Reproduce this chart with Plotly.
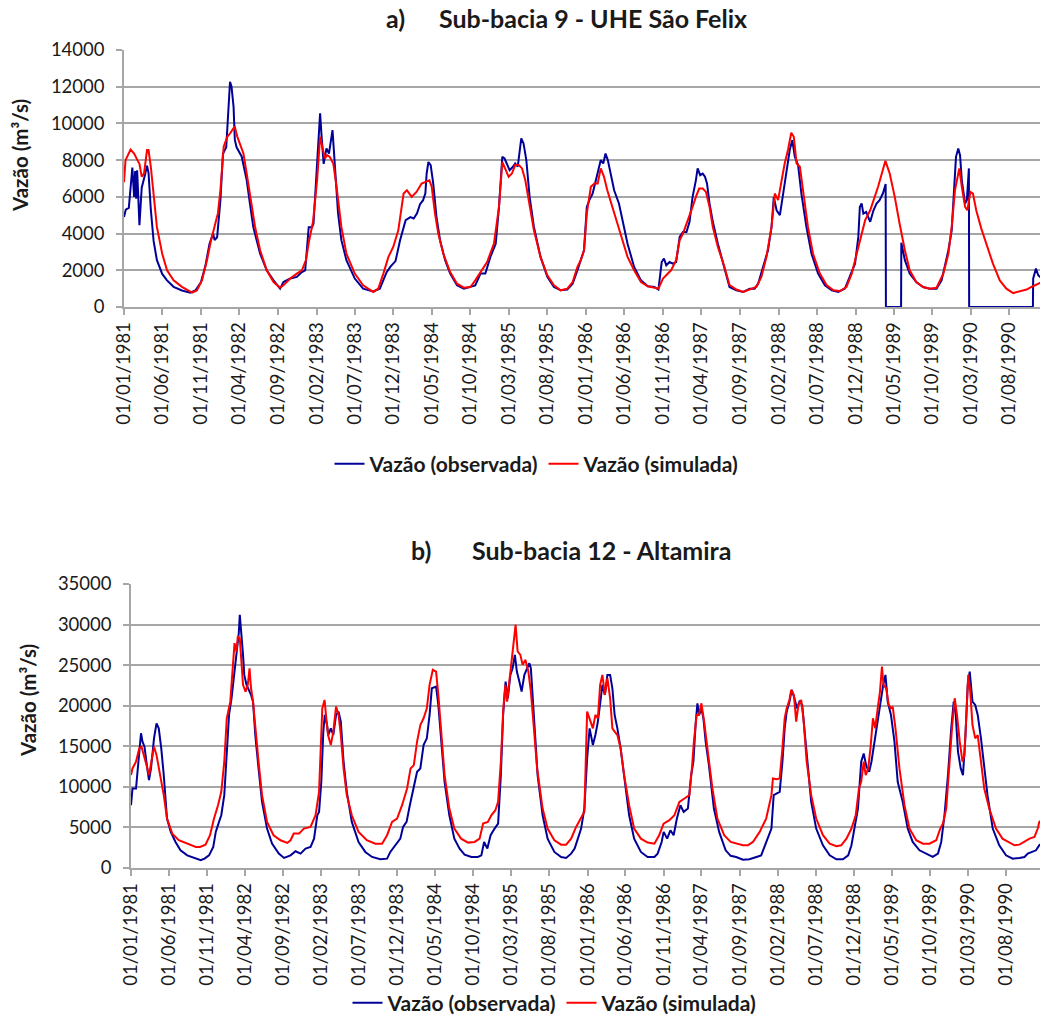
import plotly.graph_objects as go

# ---------------- data ----------------
# Panel a: Sub-bacia 9 - UHE São Felix, observed flow (m3/s)
A_OBS = [
    ("1981-01-01", 4900), ("1981-01-08", 5300), ("1981-01-20", 5400), ("1981-02-03", 7600),
    ("1981-02-10", 6000), ("1981-02-14", 7400), ("1981-02-18", 5900), ("1981-02-22", 7450),
    ("1981-03-03", 4450), ("1981-03-12", 6500), ("1981-03-25", 7200), ("1981-04-02", 7700),
    ("1981-04-08", 7300), ("1981-04-17", 5300), ("1981-04-28", 3600), ("1981-05-11", 2550),
    ("1981-06-01", 1800), ("1981-06-20", 1450), ("1981-07-16", 1100), ("1981-08-18", 900),
    ("1981-09-20", 780), ("1981-10-10", 900), ("1981-11-01", 1350), ("1981-11-18", 2200),
    ("1981-12-05", 3450), ("1981-12-19", 4000), ("1981-12-25", 3650), ("1982-01-04", 3800),
    ("1982-01-17", 5800), ("1982-01-27", 8350), ("1982-02-09", 8700), ("1982-02-19", 10900),
    ("1982-02-24", 12270), ("1982-03-02", 12000), ("1982-03-10", 10900), ("1982-03-15", 9100),
    ("1982-03-22", 8700), ("1982-04-11", 8200), ("1982-05-01", 6900), ("1982-05-14", 5600),
    ("1982-05-27", 4350), ("1982-06-23", 2900), ("1982-07-19", 2000), ("1982-08-15", 1450),
    ("1982-09-10", 1000), ("1982-09-23", 1360), ("1982-10-20", 1550), ("1982-11-15", 1640),
    ("1982-12-05", 1900), ("1982-12-18", 2000), ("1983-01-01", 4350), ("1983-01-14", 4350),
    ("1983-01-20", 4550), ("1983-02-03", 7800), ("1983-02-15", 10550), ("1983-02-21", 9270),
    ("1983-03-01", 7800), ("1983-03-12", 8640), ("1983-03-22", 8360), ("1983-04-05", 9640),
    ("1983-04-14", 7640), ("1983-04-27", 5100), ("1983-05-10", 3640), ("1983-05-30", 2550),
    ("1983-07-02", 1550), ("1983-08-04", 1000), ("1983-09-13", 850), ("1983-10-09", 1000),
    ("1983-11-05", 1900), ("1983-11-20", 2200), ("1983-12-10", 2500), ("1983-12-28", 3640),
    ("1984-01-19", 4730), ("1984-02-07", 4900), ("1984-02-20", 4820), ("1984-03-04", 5100),
    ("1984-03-16", 5600), ("1984-03-28", 5820), ("1984-04-06", 6200), ("1984-04-11", 7270),
    ("1984-04-18", 7900), ("1984-04-27", 7730), ("1984-05-07", 6730), ("1984-05-20", 4900),
    ("1984-06-03", 3640), ("1984-06-23", 2550), ("1984-07-13", 1820), ("1984-08-09", 1180),
    ("1984-09-05", 1000), ("1984-10-01", 1090), ("1984-10-20", 1180), ("1984-11-10", 1820),
    ("1984-11-29", 1820), ("1984-12-19", 2730), ("1985-01-09", 3450), ("1985-01-22", 5450),
    ("1985-02-04", 8180), ("1985-02-13", 8090), ("1985-02-24", 7730), ("1985-03-05", 7450),
    ("1985-03-18", 7640), ("1985-03-27", 7820), ("1985-04-06", 7640), ("1985-04-14", 8730),
    ("1985-04-20", 9180), ("1985-04-29", 8910), ("1985-05-10", 8000), ("1985-05-23", 6000),
    ("1985-06-09", 4360), ("1985-07-05", 2730), ("1985-08-01", 1640), ("1985-08-27", 1090),
    ("1985-09-23", 910), ("1985-10-19", 950), ("1985-11-09", 1270), ("1985-11-28", 2000),
    ("1985-12-11", 2550), ("1985-12-24", 3090), ("1986-01-04", 5450), ("1986-01-14", 5820),
    ("1986-01-27", 6180), ("1986-02-09", 6900), ("1986-02-22", 7550), ("1986-02-28", 8000),
    ("1986-03-10", 7820), ("1986-03-19", 8360), ("1986-03-28", 8000), ("1986-04-09", 7270),
    ("1986-04-22", 6360), ("1986-05-11", 5640), ("1986-05-24", 4730), ("1986-06-14", 3450),
    ("1986-07-10", 2180), ("1986-08-06", 1450), ("1986-09-02", 1130), ("1986-09-28", 1090),
    ("1986-10-14", 950), ("1986-10-27", 2450), ("1986-11-05", 2640), ("1986-11-14", 2270),
    ("1986-11-27", 2450), ("1986-12-10", 2360), ("1986-12-23", 2450), ("1987-01-06", 3820),
    ("1987-01-19", 4090), ("1987-02-02", 4090), ("1987-02-14", 4640), ("1987-02-26", 6000),
    ("1987-03-11", 6900), ("1987-03-18", 7550), ("1987-03-28", 7180), ("1987-04-07", 7270),
    ("1987-04-16", 7100), ("1987-04-24", 6730), ("1987-05-04", 5640), ("1987-05-17", 4640),
    ("1987-06-06", 3450), ("1987-07-02", 2180), ("1987-07-22", 1090), ("1987-08-18", 910),
    ("1987-09-14", 820), ("1987-10-10", 1000), ("1987-10-29", 1000), ("1987-11-12", 1270),
    ("1987-12-02", 2180), ("1987-12-21", 3090), ("1988-01-04", 4360), ("1988-01-13", 6000),
    ("1988-01-24", 5270), ("1988-02-06", 5000), ("1988-02-19", 6180), ("1988-03-03", 7270),
    ("1988-03-16", 8550), ("1988-03-26", 9090), ("1988-04-05", 8180), ("1988-04-18", 7730),
    ("1988-05-01", 6180), ("1988-05-21", 4360), ("1988-06-10", 2900), ("1988-07-06", 1820),
    ("1988-08-02", 1180), ("1988-08-29", 910), ("1988-09-24", 820), ("1988-10-20", 1000),
    ("1988-11-09", 1640), ("1988-11-29", 2360), ("1988-12-12", 3820), ("1988-12-18", 5450),
    ("1988-12-25", 5640), ("1989-01-01", 5090), ("1989-01-12", 5180), ("1989-01-21", 4900),
    ("1989-01-28", 4640), ("1989-02-10", 5270), ("1989-02-22", 5640), ("1989-03-06", 5820),
    ("1989-03-19", 6180), ("1989-03-30", 6700), ("1989-03-31", 0), ("1989-05-30", 0),
    ("1989-05-31", 3500), ("1989-06-14", 2550), ("1989-07-03", 1820), ("1989-07-29", 1360),
    ("1989-08-25", 1090), ("1989-09-21", 1000), ("1989-10-17", 1000), ("1989-11-06", 1450),
    ("1989-11-19", 2180), ("1989-12-03", 3090), ("1989-12-16", 4180), ("1989-12-25", 6180),
    ("1990-01-02", 8180), ("1990-01-11", 8640), ("1990-01-18", 8270), ("1990-01-25", 6900),
    ("1990-02-07", 5640), ("1990-02-14", 5820), ("1990-02-22", 7550), ("1990-02-23", 0),
    ("1990-11-02", 0), ("1990-11-03", 1550), ("1990-11-14", 2090), ("1990-11-23", 1730),
    ("1990-11-30", 1640), ("1990-12-31", 1800),
]

# Panel a: simulated flow (m3/s)
A_SIM = [
    ("1981-01-01", 6800), ("1981-01-07", 8000), ("1981-01-27", 8580), ("1981-02-10", 8360),
    ("1981-02-23", 8000), ("1981-03-03", 7800), ("1981-03-12", 7100), ("1981-03-21", 7270),
    ("1981-04-02", 8550), ("1981-04-08", 8550), ("1981-04-17", 7640), ("1981-04-28", 6000),
    ("1981-05-11", 4360), ("1981-06-01", 2900), ("1981-06-20", 2000), ("1981-07-16", 1450),
    ("1981-08-18", 1100), ("1981-09-27", 780), ("1981-10-16", 900), ("1981-11-05", 1450),
    ("1981-11-25", 2550), ("1981-12-11", 3640), ("1981-12-28", 4550), ("1982-01-07", 5100),
    ("1982-01-17", 6360), ("1982-01-30", 8730), ("1982-02-13", 9270), ("1982-02-24", 9450),
    ("1982-03-09", 9730), ("1982-03-15", 9800), ("1982-03-25", 9270), ("1982-04-08", 8730),
    ("1982-04-18", 8360), ("1982-05-01", 7270), ("1982-05-17", 5820), ("1982-06-03", 4360),
    ("1982-06-23", 3090), ("1982-07-19", 2000), ("1982-08-15", 1360), ("1982-09-10", 1050),
    ("1982-09-23", 1180), ("1982-10-20", 1550), ("1982-11-15", 1820), ("1982-12-05", 2000),
    ("1982-12-21", 2550), ("1983-01-03", 3640), ("1983-01-18", 4640), ("1983-02-03", 6900),
    ("1983-02-15", 9270), ("1983-02-25", 8730), ("1983-03-06", 8090), ("1983-03-15", 8270),
    ("1983-03-25", 8180), ("1983-04-08", 7820), ("1983-04-21", 6550), ("1983-05-10", 4360),
    ("1983-05-30", 2900), ("1983-07-02", 1820), ("1983-08-04", 1180), ("1983-09-13", 820),
    ("1983-10-03", 1000), ("1983-10-23", 1820), ("1983-11-12", 2730), ("1983-12-01", 3270),
    ("1983-12-21", 4180), ("1984-01-11", 6180), ("1984-01-24", 6360), ("1984-02-12", 6000),
    ("1984-03-02", 6270), ("1984-03-22", 6730), ("1984-04-11", 6820), ("1984-04-22", 6900),
    ("1984-05-01", 6550), ("1984-05-14", 5100), ("1984-05-27", 4000), ("1984-06-16", 2900),
    ("1984-07-13", 1900), ("1984-08-09", 1270), ("1984-09-05", 1050), ("1984-10-01", 1090),
    ("1984-10-20", 1450), ("1984-11-10", 1900), ("1984-12-06", 2450), ("1985-01-02", 3450),
    ("1985-01-22", 5450), ("1985-02-04", 7900), ("1985-02-18", 7450), ("1985-03-01", 7090),
    ("1985-03-14", 7270), ("1985-03-27", 7730), ("1985-04-10", 7730), ("1985-04-23", 7550),
    ("1985-05-06", 6900), ("1985-05-19", 5820), ("1985-06-09", 4180), ("1985-07-05", 2730),
    ("1985-08-01", 1730), ("1985-08-27", 1180), ("1985-09-23", 910), ("1985-10-19", 1000),
    ("1985-11-09", 1360), ("1985-11-28", 2180), ("1985-12-11", 2550), ("1985-12-24", 3090),
    ("1986-01-04", 5100), ("1986-01-20", 6550), ("1986-02-03", 6730), ("1986-02-16", 6730),
    ("1986-02-28", 7550), ("1986-03-13", 7090), ("1986-03-26", 6360), ("1986-04-15", 5450),
    ("1986-05-05", 4550), ("1986-05-24", 3640), ("1986-06-14", 2730), ("1986-07-10", 2000),
    ("1986-08-06", 1360), ("1986-09-02", 1130), ("1986-09-28", 1050), ("1986-10-14", 1000),
    ("1986-11-01", 1550), ("1986-11-14", 1730), ("1986-12-03", 2000), ("1986-12-23", 2550),
    ("1987-01-06", 3640), ("1987-01-19", 4000), ("1987-02-08", 4730), ("1987-02-26", 5450),
    ("1987-03-11", 6000), ("1987-03-24", 6450), ("1987-04-07", 6450), ("1987-04-20", 6270),
    ("1987-05-04", 5450), ("1987-05-17", 4360), ("1987-06-06", 3270), ("1987-07-02", 2180),
    ("1987-07-22", 1200), ("1987-08-18", 950), ("1987-09-14", 820), ("1987-10-10", 950),
    ("1987-11-05", 1090), ("1987-11-25", 1640), ("1987-12-15", 2730), ("1988-01-04", 4360),
    ("1988-01-17", 6180), ("1988-01-30", 5820), ("1988-02-13", 6900), ("1988-02-25", 7820),
    ("1988-03-09", 8550), ("1988-03-22", 9490), ("1988-04-01", 9270), ("1988-04-12", 7820),
    ("1988-04-25", 7640), ("1988-05-08", 6360), ("1988-05-27", 4360), ("1988-06-16", 2900),
    ("1988-07-13", 1820), ("1988-08-09", 1180), ("1988-09-05", 910), ("1988-09-30", 870),
    ("1988-10-26", 1090), ("1988-11-16", 1820), ("1988-12-05", 2900), ("1988-12-25", 4000),
    ("1989-01-08", 4730), ("1989-01-28", 5270), ("1989-02-16", 6000), ("1989-02-28", 6550),
    ("1989-03-13", 7180), ("1989-03-29", 7960), ("1989-04-15", 7270), ("1989-05-05", 6000),
    ("1989-05-24", 4550), ("1989-06-14", 3090), ("1989-07-03", 2000), ("1989-07-29", 1360),
    ("1989-08-25", 1090), ("1989-09-21", 1000), ("1989-10-17", 1050), ("1989-11-13", 1820),
    ("1989-12-03", 2900), ("1989-12-16", 4360), ("1989-12-29", 6360), ("1990-01-15", 7550),
    ("1990-01-25", 6550), ("1990-02-07", 5450), ("1990-02-16", 5270), ("1990-02-28", 6270),
    ("1990-03-10", 6180), ("1990-03-23", 5270), ("1990-04-12", 4270), ("1990-05-02", 3450),
    ("1990-05-28", 2360), ("1990-06-24", 1450), ("1990-07-20", 1000), ("1990-08-16", 760),
    ("1990-09-12", 870), ("1990-10-08", 950), ("1990-10-27", 1090), ("1990-11-17", 1220),
    ("1990-11-30", 1310), ("1990-12-31", 1450),
]

# Panel b: Sub-bacia 12 - Altamira, observed flow (m3/s)
B_OBS = [
    ("1981-01-01", 7740), ("1981-01-07", 9800), ("1981-01-21", 9800), ("1981-01-30", 13100),
    ("1981-02-10", 16600), ("1981-02-16", 15570), ("1981-02-24", 14950), ("1981-03-07", 12270),
    ("1981-03-14", 10830), ("1981-03-22", 12270), ("1981-04-03", 15980), ("1981-04-13", 17830),
    ("1981-04-22", 17210), ("1981-05-02", 14740), ("1981-05-12", 11450), ("1981-05-25", 6090),
    ("1981-06-09", 4450), ("1981-06-28", 3210), ("1981-07-18", 2180), ("1981-08-14", 1560),
    ("1981-09-10", 1240), ("1981-10-07", 950), ("1981-10-22", 1150), ("1981-11-09", 1560),
    ("1981-11-26", 2590), ("1981-12-06", 4450), ("1981-12-19", 5680), ("1981-12-28", 6500),
    ("1982-01-09", 8980), ("1982-01-18", 13100), ("1982-01-28", 18860), ("1982-02-07", 20920),
    ("1982-02-17", 23800), ("1982-02-27", 26270), ("1982-03-08", 28950), ("1982-03-12", 31210),
    ("1982-03-17", 29570), ("1982-03-25", 26270), ("1982-03-30", 23800), ("1982-04-08", 22570),
    ("1982-04-17", 21950), ("1982-04-26", 21330), ("1982-05-04", 20500), ("1982-05-13", 16390),
    ("1982-05-26", 12270), ("1982-06-09", 8150), ("1982-06-29", 4860), ("1982-07-19", 3000),
    ("1982-08-15", 1770), ("1982-09-05", 1240), ("1982-10-01", 1560), ("1982-10-21", 2060),
    ("1982-11-10", 1770), ("1982-11-30", 2390), ("1982-12-20", 2590), ("1983-01-03", 3620),
    ("1983-01-16", 6500), ("1983-01-23", 6920), ("1983-02-01", 10620), ("1983-02-09", 16800),
    ("1983-02-15", 18860), ("1983-02-24", 17620), ("1983-03-01", 16390), ("1983-03-11", 17210),
    ("1983-03-21", 16390), ("1983-04-01", 18860), ("1983-04-11", 19270), ("1983-04-20", 18040),
    ("1983-05-01", 13100), ("1983-05-14", 9390), ("1983-06-03", 5680), ("1983-06-30", 3210),
    ("1983-07-27", 1980), ("1983-08-23", 1360), ("1983-09-25", 1070), ("1983-10-22", 1150),
    ("1983-11-04", 1980), ("1983-11-18", 2590), ("1983-12-01", 3000), ("1983-12-14", 3620),
    ("1983-12-25", 5060), ("1984-01-08", 5680), ("1984-01-21", 7740), ("1984-02-04", 9800),
    ("1984-02-19", 11860), ("1984-03-03", 12270), ("1984-03-16", 15150), ("1984-03-29", 15980),
    ("1984-04-09", 18860), ("1984-04-18", 22150), ("1984-05-05", 22360), ("1984-05-14", 20100),
    ("1984-05-25", 15570), ("1984-06-08", 10620), ("1984-06-27", 6500), ("1984-07-17", 3620),
    ("1984-08-07", 2390), ("1984-08-27", 1650), ("1984-09-23", 1360), ("1984-10-19", 1360),
    ("1984-11-02", 1560), ("1984-11-13", 3210), ("1984-11-26", 2390), ("1984-12-09", 4040),
    ("1984-12-25", 4860), ("1985-01-08", 5470), ("1985-01-19", 11450), ("1985-01-28", 18860),
    ("1985-02-07", 22980), ("1985-02-16", 20920), ("1985-02-26", 23800), ("1985-03-07", 24620),
    ("1985-03-16", 26270), ("1985-03-24", 24210), ("1985-04-03", 22980), ("1985-04-12", 21740),
    ("1985-04-23", 23800), ("1985-05-03", 24620), ("1985-05-13", 25240), ("1985-05-19", 24620),
    ("1985-05-26", 21740), ("1985-06-05", 16390), ("1985-06-15", 11450), ("1985-07-05", 6500),
    ("1985-07-25", 3620), ("1985-08-21", 1980), ("1985-09-17", 1360), ("1985-10-07", 1240),
    ("1985-10-27", 1770), ("1985-11-10", 2390), ("1985-11-23", 3620), ("1985-12-06", 4860),
    ("1985-12-19", 7330), ("1985-12-30", 13510), ("1986-01-09", 17210), ("1986-01-22", 15150),
    ("1986-02-01", 16390), ("1986-02-11", 18040), ("1986-02-21", 20500), ("1986-03-01", 22570),
    ("1986-03-11", 21330), ("1986-03-21", 23800), ("1986-04-01", 23800), ("1986-04-10", 22150),
    ("1986-04-19", 18860), ("1986-04-30", 17210), ("1986-05-13", 14740), ("1986-05-27", 11040),
    ("1986-06-16", 6500), ("1986-07-06", 3620), ("1986-08-02", 1980), ("1986-08-29", 1360),
    ("1986-09-25", 1360), ("1986-10-08", 1770), ("1986-10-24", 3210), ("1986-11-01", 4450),
    ("1986-11-15", 3620), ("1986-11-28", 4650), ("1986-12-11", 4040), ("1986-12-24", 6090),
    ("1987-01-07", 7740), ("1987-01-20", 6920), ("1987-02-06", 7330), ("1987-02-19", 11450),
    ("1987-02-28", 13100), ("1987-03-09", 17830), ("1987-03-16", 20300), ("1987-03-23", 18860),
    ("1987-04-01", 19680), ("1987-04-09", 18450), ("1987-04-18", 15570), ("1987-05-01", 12680),
    ("1987-05-21", 7330), ("1987-06-11", 4450), ("1987-07-07", 2180), ("1987-07-27", 1500),
    ("1987-08-18", 1360), ("1987-09-14", 1030), ("1987-10-10", 1070), ("1987-11-07", 1360),
    ("1987-11-26", 1560), ("1987-12-09", 2590), ("1987-12-23", 3620), ("1988-01-06", 4860),
    ("1988-01-15", 8980), ("1988-01-26", 9180), ("1988-02-08", 9390), ("1988-02-19", 13100),
    ("1988-02-28", 17210), ("1988-03-07", 19270), ("1988-03-18", 20500), ("1988-03-27", 21950),
    ("1988-04-07", 20920), ("1988-04-17", 19680), ("1988-04-27", 20500), ("1988-05-08", 20100),
    ("1988-05-17", 17210), ("1988-05-30", 12270), ("1988-06-13", 8150), ("1988-07-03", 4860),
    ("1988-07-30", 2800), ("1988-08-26", 1560), ("1988-09-22", 1070), ("1988-10-18", 1070),
    ("1988-11-08", 1560), ("1988-11-21", 2800), ("1988-12-04", 4860), ("1988-12-17", 7330),
    ("1988-12-30", 13100), ("1989-01-09", 14120), ("1989-01-20", 12480), ("1989-01-31", 11860),
    ("1989-02-09", 13100), ("1989-02-21", 15570), ("1989-03-06", 18040), ("1989-03-19", 20500),
    ("1989-03-28", 22570), ("1989-04-06", 23800), ("1989-04-15", 20500), ("1989-04-28", 18860),
    ("1989-05-12", 15570), ("1989-05-25", 10620), ("1989-06-14", 8150), ("1989-07-04", 4860),
    ("1989-07-24", 3210), ("1989-08-20", 2180), ("1989-09-16", 1770), ("1989-10-12", 1360),
    ("1989-11-02", 1770), ("1989-11-15", 3210), ("1989-11-28", 6500), ("1989-12-12", 11450),
    ("1989-12-25", 17210), ("1990-01-04", 20500), ("1990-01-12", 18860), ("1990-01-21", 14330),
    ("1990-02-01", 12270), ("1990-02-10", 11450), ("1990-02-20", 16390), ("1990-03-01", 22570),
    ("1990-03-09", 24210), ("1990-03-20", 20500), ("1990-03-31", 20100), ("1990-04-10", 18860),
    ("1990-04-23", 15980), ("1990-05-06", 12270), ("1990-05-19", 8980), ("1990-06-09", 4860),
    ("1990-07-05", 2800), ("1990-08-01", 1560), ("1990-08-28", 1150), ("1990-09-24", 1240),
    ("1990-10-14", 1360), ("1990-10-27", 1770), ("1990-11-16", 1980), ("1990-11-29", 2180),
    ("1990-12-12", 2800), ("1990-12-31", 3200),
]

# Panel b: simulated flow (m3/s)
B_SIM = [
    ("1981-01-01", 11450), ("1981-01-07", 12270), ("1981-01-21", 13100), ("1981-02-03", 14740),
    ("1981-02-12", 14950), ("1981-02-22", 13920), ("1981-03-04", 12680), ("1981-03-14", 11450),
    ("1981-03-22", 12680), ("1981-04-03", 14950), ("1981-04-13", 13920), ("1981-04-26", 11860),
    ("1981-05-12", 8980), ("1981-05-25", 6090), ("1981-06-15", 4240), ("1981-07-11", 3420),
    ("1981-08-14", 3000), ("1981-09-17", 2590), ("1981-10-04", 2590), ("1981-10-26", 2880),
    ("1981-11-13", 4040), ("1981-11-29", 6090), ("1981-12-15", 7740), ("1981-12-28", 9390),
    ("1982-01-09", 13100), ("1982-01-19", 18450), ("1982-02-02", 20500), ("1982-02-11", 24620),
    ("1982-02-19", 27710), ("1982-02-27", 26690), ("1982-03-04", 28540), ("1982-03-12", 28330),
    ("1982-03-18", 25450), ("1982-03-25", 22570), ("1982-04-04", 21740), ("1982-04-13", 22570),
    ("1982-04-20", 24620), ("1982-04-26", 22150), ("1982-05-04", 20500), ("1982-05-13", 17210),
    ("1982-05-26", 13100), ("1982-06-09", 8980), ("1982-06-29", 5680), ("1982-07-25", 4040),
    ("1982-08-22", 3420), ("1982-09-18", 3090), ("1982-10-01", 3420), ("1982-10-14", 4240),
    ("1982-11-04", 4240), ("1982-11-23", 4860), ("1982-12-20", 5060), ("1983-01-09", 6500),
    ("1983-01-23", 9390), ("1983-02-05", 19680), ("1983-02-14", 20710), ("1983-02-21", 18450),
    ("1983-02-28", 16390), ("1983-03-11", 15150), ("1983-03-21", 16800), ("1983-04-01", 19890),
    ("1983-04-11", 18860), ("1983-04-20", 16390), ("1983-05-01", 12270), ("1983-05-14", 8980),
    ("1983-06-03", 6500), ("1983-06-30", 4450), ("1983-08-02", 3420), ("1983-09-05", 3000),
    ("1983-10-02", 3000), ("1983-10-22", 4040), ("1983-11-11", 5680), ("1983-12-01", 6090),
    ("1983-12-21", 7740), ("1984-01-10", 9800), ("1984-01-24", 12270), ("1984-02-06", 12680),
    ("1984-02-19", 15570), ("1984-03-03", 17620), ("1984-03-16", 18450), ("1984-03-29", 19680),
    ("1984-04-09", 22570), ("1984-04-22", 24420), ("1984-05-05", 24210), ("1984-05-14", 21330),
    ("1984-05-25", 16390), ("1984-06-08", 11450), ("1984-06-27", 7330), ("1984-07-17", 4860),
    ("1984-08-13", 3620), ("1984-09-10", 3130), ("1984-10-06", 3210), ("1984-10-26", 3620),
    ("1984-11-09", 5470), ("1984-11-28", 5680), ("1984-12-12", 6500), ("1984-12-28", 7120),
    ("1985-01-08", 8150), ("1985-01-19", 13100), ("1985-01-29", 19680), ("1985-02-06", 22570),
    ("1985-02-13", 20500), ("1985-02-22", 22980), ("1985-03-03", 25450), ("1985-03-11", 28330),
    ("1985-03-19", 29980), ("1985-03-27", 26690), ("1985-04-07", 26270), ("1985-04-16", 25040),
    ("1985-04-27", 25650), ("1985-05-09", 24210), ("1985-05-19", 21740), ("1985-05-30", 17620),
    ("1985-06-13", 12270), ("1985-07-05", 7330), ("1985-07-25", 4860), ("1985-08-21", 3420),
    ("1985-09-17", 2880), ("1985-10-07", 2880), ("1985-10-27", 3620), ("1985-11-16", 5060),
    ("1985-12-06", 6090), ("1985-12-19", 6920), ("1985-12-30", 19270), ("1986-01-09", 18450),
    ("1986-01-22", 17210), ("1986-02-01", 18860), ("1986-02-11", 18450), ("1986-02-20", 22570),
    ("1986-03-01", 23800), ("1986-03-11", 21330), ("1986-03-21", 23390), ("1986-04-01", 20920),
    ("1986-04-10", 17210), ("1986-04-19", 16800), ("1986-04-30", 16390), ("1986-05-13", 14740),
    ("1986-05-27", 11450), ("1986-06-16", 7740), ("1986-07-06", 4860), ("1986-08-02", 3620),
    ("1986-08-29", 3130), ("1986-09-25", 3000), ("1986-10-14", 4040), ("1986-11-01", 5470),
    ("1986-11-24", 5890), ("1986-12-14", 6500), ("1987-01-03", 8150), ("1987-01-23", 8570),
    ("1987-02-12", 8980), ("1987-02-22", 12270), ("1987-03-02", 15570), ("1987-03-13", 18860),
    ("1987-03-22", 18860), ("1987-04-01", 20300), ("1987-04-12", 18040), ("1987-04-25", 14740),
    ("1987-05-15", 9800), ("1987-06-04", 6090), ("1987-07-01", 4040), ("1987-07-27", 3210),
    ("1987-08-18", 3000), ("1987-09-14", 2800), ("1987-10-04", 2800), ("1987-10-24", 3210),
    ("1987-11-20", 4450), ("1987-12-16", 6090), ("1988-01-06", 8980), ("1988-01-12", 11040),
    ("1988-01-26", 10950), ("1988-02-08", 11040), ("1988-02-19", 14740), ("1988-02-28", 18450),
    ("1988-03-07", 19680), ("1988-03-18", 20710), ("1988-03-25", 21950), ("1988-04-05", 21330),
    ("1988-04-14", 18040), ("1988-04-23", 20100), ("1988-05-04", 20710), ("1988-05-13", 18450),
    ("1988-05-26", 13100), ("1988-06-13", 8980), ("1988-07-03", 6090), ("1988-07-30", 4040),
    ("1988-08-26", 3000), ("1988-09-22", 2680), ("1988-10-11", 2800), ("1988-11-01", 3620),
    ("1988-11-21", 4860), ("1988-12-08", 6500), ("1988-12-21", 9800), ("1988-12-30", 10620),
    ("1989-01-09", 13100), ("1989-01-17", 11450), ("1989-01-27", 12270), ("1989-02-05", 14740),
    ("1989-02-15", 18450), ("1989-02-24", 17210), ("1989-03-06", 19680), ("1989-03-15", 21740),
    ("1989-03-23", 24830), ("1989-03-29", 22570), ("1989-04-09", 22150), ("1989-04-19", 20100),
    ("1989-04-28", 19680), ("1989-05-05", 19890), ("1989-05-16", 17210), ("1989-06-01", 12270),
    ("1989-06-21", 7740), ("1989-07-11", 4860), ("1989-08-07", 3420), ("1989-09-03", 3000),
    ("1989-09-29", 3000), ("1989-10-26", 3420), ("1989-11-11", 4860), ("1989-11-22", 5470),
    ("1989-12-05", 7330), ("1989-12-18", 13100), ("1989-12-29", 17620), ("1990-01-08", 20920),
    ("1990-01-17", 18860), ("1990-01-28", 15570), ("1990-02-08", 13100), ("1990-02-16", 13920),
    ("1990-02-25", 20920), ("1990-03-03", 23800), ("1990-03-11", 21740), ("1990-03-20", 17620),
    ("1990-03-31", 15980), ("1990-04-10", 16390), ("1990-04-23", 13100), ("1990-05-06", 9800),
    ("1990-05-26", 7330), ("1990-06-22", 4860), ("1990-07-18", 3620), ("1990-08-14", 3210),
    ("1990-09-04", 2800), ("1990-09-24", 2880), ("1990-10-14", 3210), ("1990-11-03", 3620),
    ("1990-11-23", 3830), ("1990-12-06", 4860), ("1990-12-12", 5680), ("1990-12-31", 6200),
]

SERIES_NAMES = ["Vazão (observada)", "Vazão (simulada)"]
TITLE_A = ("a)", "Sub-bacia 9 - UHE São Felix")
TITLE_B = ("b)", "Sub-bacia 12 - Altamira")
Y_TITLE = "Vazão (m³/s)"

# ---------------- figure ----------------
W, H = 1040, 1018
BLUE = "#000099"
RED = "#FF0000"
GRID = "#A6A6A6"
TXT = "#1a1a1a"
FONT = "Lato, Carlito, 'Open Sans', sans-serif"


def px_x(p):
    return p / W


def px_y(p):
    return 1 - p / H


def unzip(pairs):
    return [d for d, _ in pairs], [v for _, v in pairs]


fig = go.Figure()

for pairs, name, color, xa, ya, lg in [
    (A_OBS, SERIES_NAMES[0], BLUE, "x", "y", "legend"),
    (A_SIM, SERIES_NAMES[1], RED, "x", "y", "legend"),
    (B_OBS, SERIES_NAMES[0], BLUE, "x2", "y2", "legend2"),
    (B_SIM, SERIES_NAMES[1], RED, "x2", "y2", "legend2"),
]:
    xs, ys = unzip(pairs)
    fig.add_trace(go.Scatter(x=xs, y=ys, mode="lines", name=name,
                             line=dict(color=color, width=2),
                             xaxis=xa, yaxis=ya, legend=lg, hoverinfo="skip"))

xcommon = dict(type="date", tick0="1981-01-01", dtick="M5", tickformat="%d/%m/%Y",
               tickangle=-90, showgrid=False, zeroline=False, showline=True,
               linecolor=GRID, linewidth=1.5, ticks="outside", ticklen=6,
               tickcolor=GRID, tickwidth=1.5, automargin=False,
               tickfont=dict(family=FONT, size=18.5, color=TXT))
ycommon = dict(showgrid=True, gridcolor=GRID, gridwidth=1.5, zeroline=False,
               showline=True, linecolor=GRID, linewidth=1.5, ticks="outside",
               ticklen=6, tickcolor=GRID, tickwidth=1.5, automargin=False,
               tickformat="d", ticklabelstandoff=8,
               tickfont=dict(family=FONT, size=18.5, color=TXT))

fig.update_layout(
    width=W, height=H,
    margin=dict(l=0, r=0, t=0, b=0, autoexpand=False),
    paper_bgcolor="white", plot_bgcolor="white",
    xaxis=dict(xcommon, domain=[px_x(124), 1.0], anchor="y",
               range=["1981-01-01", "1990-11-30"]),
    yaxis=dict(ycommon, domain=[px_y(307), px_y(50)], anchor="x",
               range=[0, 14000], dtick=2000),
    xaxis2=dict(xcommon, domain=[px_x(131), 1.0], anchor="y2",
                range=["1981-01-01", "1990-12-15"]),
    yaxis2=dict(ycommon, domain=[px_y(868), px_y(584)], anchor="x2",
                range=[0, 35000], dtick=5000),
    legend=dict(orientation="h", x=px_x(537), xanchor="center", y=px_y(464),
                yanchor="middle", bgcolor="rgba(0,0,0,0)",
                font=dict(family=FONT, size=21, color=TXT, weight="bold")),
    legend2=dict(orientation="h", x=px_x(555), xanchor="center", y=px_y(1003),
                 yanchor="middle", bgcolor="rgba(0,0,0,0)",
                 font=dict(family=FONT, size=21, color=TXT, weight="bold")),
)

ann_font = dict(family=FONT, size=25, color=TXT, weight="bold")
for label, main, lx, mx, yc in [
    (TITLE_A[0], TITLE_A[1], 384, 437, 18),
    (TITLE_B[0], TITLE_B[1], 409, 470, 550),
]:
    fig.add_annotation(text=label, x=px_x(lx), y=px_y(yc), xref="paper", yref="paper",
                       xanchor="left", yanchor="middle", showarrow=False, font=ann_font)
    fig.add_annotation(text=main, x=px_x(mx), y=px_y(yc), xref="paper", yref="paper",
                       xanchor="left", yanchor="middle", showarrow=False, font=ann_font)

for xc, yc in [(20, 156), (28, 701)]:
    fig.add_annotation(text=Y_TITLE, x=px_x(xc), y=px_y(yc), xref="paper", yref="paper",
                       xanchor="center", yanchor="middle", textangle=-90, showarrow=False,
                       font=dict(family=FONT, size=20.5, color=TXT, weight="bold"))

fig.write_html("out.html", config={"displayModeBar": False},
               post_script="document.body.style.margin='0px';")
